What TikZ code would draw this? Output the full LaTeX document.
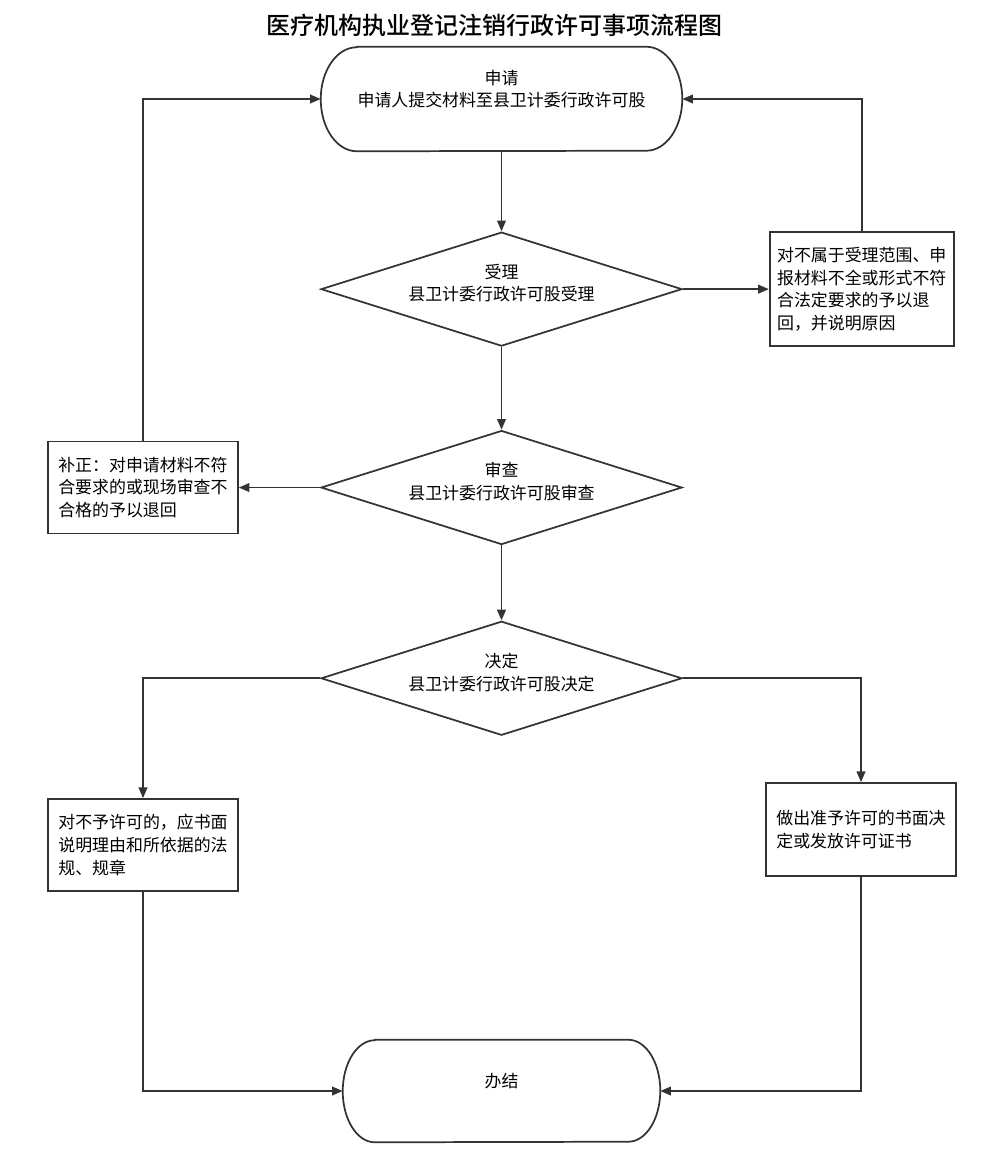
\documentclass[tikz,border=0pt]{standalone}
\usepackage{fontspec}
\newfontfamily\cjk{Noto Sans CJK SC}
\newfontfamily\cjktitle{Noto Sans CJK SC}[UprightFont=* Medium]
\usetikzlibrary{shapes.geometric, arrows.meta, positioning}
\definecolor{linegray}{HTML}{333333}
\newcommand\bodyfont{\cjk\fontsize{12.7pt}{17pt}\selectfont}

\begin{document}
\begin{tikzpicture}[x=0.75pt, y=0.75pt]
	\tikzset{
		line/.style={draw=linegray, line width=1.3pt},
		arrow/.style={line, -{Triangle[length=8pt, width=6.5pt]}},
		termnode/.style={rectangle, minimum width=270.75pt, minimum height=78pt, inner sep=0pt, align=center, text depth=16pt, font=\bodyfont},
		decnode/.style={diamond, line, aspect=3.17, minimum width=270.75pt, minimum height=85.5pt, inner sep=0pt, align=center, text depth=10pt, font=\bodyfont},
		boxnode/.style={rectangle, line, text width=127pt, align=left, font=\bodyfont},
	}
	\useasboundingbox (0,0) rectangle (987,-1174);

	\node[font=\cjktitle\fontsize{18pt}{22pt}\selectfont] (title) at (494,-25) {医疗机构执业登记注销行政许可事项流程图};

	% main column
	\node[termnode] (apply) at (501.5,-99) {申请\\申请人提交材料至县卫计委行政许可股};
	\node[decnode, below = 60pt of apply] (accept) {受理\\县卫计委行政许可股受理};
	\node[decnode, below = 62pt of accept] (review) {审查\\县卫计委行政许可股审查};
	\node[decnode, below = 56.25pt of review] (decide) {决定\\县卫计委行政许可股决定};
	\node[termnode, minimum width=237.75pt, minimum height=76.5pt] (finish) at (501.5,-1091) {办结};

	% terminal outlines
	\draw[line] ([xshift=27pt]apply.north west) -- ([xshift=-27pt]apply.north east)
		arc[start angle=90, end angle=-90, x radius=27pt, y radius=39pt]
		-- ([xshift=27pt]apply.south west)
		arc[start angle=270, end angle=90, x radius=27pt, y radius=39pt] -- cycle;
	\draw[line] ([xshift=24pt]finish.north west) -- ([xshift=-24pt]finish.north east)
		arc[start angle=90, end angle=-90, x radius=24pt, y radius=38.25pt]
		-- ([xshift=24pt]finish.south west)
		arc[start angle=270, end angle=90, x radius=24pt, y radius=38.25pt] -- cycle;

	% side boxes
	\node[boxnode, minimum width=138pt, minimum height=85.5pt, right = 64.5pt of accept] (reject) {对不属于受理范围、申\\报材料不全或形式不符\\合法定要求的予以退\\回，并说明原因};
	\node[boxnode, minimum width=142.5pt, minimum height=69pt, left = 61pt of review] (amend) {补正：对申请材料不符\\合要求的或现场审查不\\合格的予以退回};
	\node[boxnode, minimum width=142.5pt, minimum height=69pt] (refuse) at (143,-845) {对不予许可的，应书面\\说明理由和所依据的法\\规、规章};
	\node[boxnode, minimum width=142.5pt, minimum height=69.75pt] (grant) at (861,-829.5) {做出准予许可的书面决\\定或发放许可证书};

	\draw[arrow] (apply.south) -- (accept.north);
	\draw[arrow] (accept.east) -- (reject.west);
	\draw[arrow] (reject.north) |- (apply.east);

	\draw[arrow] (accept.south) -- (review.north);
	\draw[arrow] (review.west) -- (amend.east);
	\draw[arrow] (amend.north) |- (apply.west);

	\draw[arrow] (review.south) -- (decide.north);
	\draw[arrow] (decide.west) -| (refuse.north);
	\draw[arrow] (decide.east) -| (grant.north);

	\draw[arrow] (refuse.south) |- (finish.west);
	\draw[arrow] (grant.south) |- (finish.east);
\end{tikzpicture}
\end{document}
